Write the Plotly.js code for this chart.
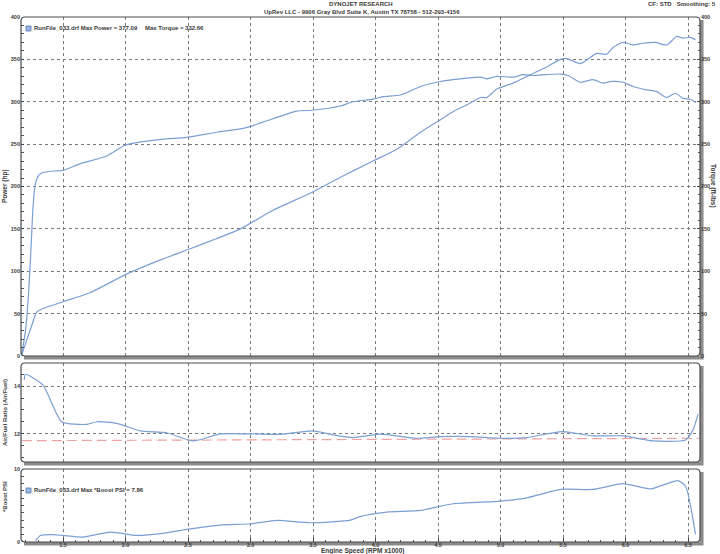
<!DOCTYPE html>
<html>
<head>
<meta charset="utf-8">
<script src="https://cdn.plot.ly/plotly-3.0.1.min.js"></script>
<style>html,body{margin:0;padding:0;background:#fff}#chart{width:720px;height:554px}</style>
</head>
<body>
<div id="chart"></div>
<script>
// ---- data read from the dyno sheet ----
const powerRpm = [1.17,1.21,1.25,1.29,1.34,1.50,1.72,2.00,2.24,2.49,2.72,2.92,3.18,3.49,3.72,3.98,4.17,4.36,4.50,4.63,4.74,4.84,4.89,4.97,5.10,5.24,5.37,5.48,5.53,5.64,5.77,5.85,5.90,5.98,6.06,6.14,6.24,6.33,6.41,6.46,6.52,6.56];
const powerHp  = [1,19,36,52,56,64,75,96,111,125,138,150,172,193,211,230,244,264,277,289,297,305,305,315,322,332,341,350,351,345,357,356,364,370,367,369,370,367,377,375,376,373];

const torqueRpm = [1.17,1.20,1.225,1.245,1.26,1.275,1.30,1.33,1.40,1.50,1.64,1.85,2.00,2.14,2.30,2.49,2.73,2.92,3.00,3.18,3.37,3.49,3.72,3.82,3.98,4.06,4.20,4.36,4.49,4.62,4.84,4.89,4.97,5.10,5.18,5.26,5.37,5.48,5.54,5.64,5.74,5.82,5.89,5.98,6.06,6.17,6.25,6.33,6.40,6.46,6.52,6.56];
const torqueLb  = [2,30,75,130,175,200,212,216,218,219,227,236,249,253,256,258,264,268,271,280,289,290,295,300,303,306,308,318,323,326,329,327,330,329,332,331,332,332.7,331,323,326,322,324,323,318,314,312,305,310,304,303,299];

const afrRpm = [1.19,1.20,1.34,1.49,1.69,1.77,1.93,2.12,2.33,2.54,2.76,3.00,3.26,3.50,3.66,3.82,4.04,4.33,4.52,4.76,5.00,5.21,5.49,5.74,5.98,6.22,6.48,6.54,6.58];
const afrVal = [14.25,14.49,14.04,12.51,12.40,12.51,12.44,12.13,12.05,11.71,12.00,12.00,11.99,12.13,11.96,11.85,11.99,11.82,11.89,11.89,11.82,11.85,12.10,11.92,11.92,11.71,11.75,12.17,12.82];

const afrRefRpm = [1.17,6.59];
const afrRefVal = [11.72,11.82];

const boostRpm = [1.28,1.32,1.42,1.50,1.66,1.88,2.09,2.28,2.49,2.76,3.00,3.21,3.48,3.80,3.88,4.09,4.36,4.62,5.00,5.21,5.48,5.74,5.98,6.20,6.42,6.48,6.56];
const boostPsi = [0.2,0.9,1.0,0.9,0.68,1.36,0.9,1.14,1.73,2.32,2.5,2.96,2.64,3.0,3.5,4.1,4.32,5.24,5.6,6.05,7.2,7.2,8.0,7.28,8.4,7.64,1.05];

const mainTicks = [0,50,100,150,200,250,300,350,400];
const rpmTicks = [1.5,2.0,2.5,3.0,3.5,4.0,4.5,5.0,5.5,6.0,6.5];
const rpmTickText = ['1.5','2.0','2.5','3.0','3.5','4.0','4.5','5.0','5.5','6.0','6.5'];

// ---- layout helpers (pixel -> paper) ----
const W = 720, H = 554;
const px = x => x / W, py = y => 1 - y / H;
const X0 = 21, X1 = 700;
const panels = { main: [17, 356], afr: [363, 462], boost: [469, 542] };
const xRange = [1.164, 6.596];

const lineCol = '#7b9fd3';
const gridCol = '#7a7a7a';
const txtCol = '#3a3a3a';
const FONT = 'Liberation Sans, Arial, sans-serif';

function rr(x0, y0, x1, y1, r) {
  const X = v => px(v).toFixed(5), Y = v => py(v).toFixed(5);
  return `M ${X(x0+r)},${Y(y0)} L ${X(x1-r)},${Y(y0)} Q ${X(x1)},${Y(y0)} ${X(x1)},${Y(y0+r)} ` +
         `L ${X(x1)},${Y(y1-r)} Q ${X(x1)},${Y(y1)} ${X(x1-r)},${Y(y1)} L ${X(x0+r)},${Y(y1)} ` +
         `Q ${X(x0)},${Y(y1)} ${X(x0)},${Y(y1-r)} L ${X(x0)},${Y(y0+r)} Q ${X(x0)},${Y(y0)} ${X(x0+r)},${Y(y0)} Z`;
}
function shadow(x0, y0, x1, y1) {
  const X = v => px(v).toFixed(5), Y = v => py(v).toFixed(5);
  return `M ${X(x0+3)},${Y(y1+1.8)} L ${X(x1+1.8)},${Y(y1+1.8)} L ${X(x1+1.8)},${Y(y0+3)}`;
}

const shapes = [];
for (const k of ['main','afr','boost']) {
  const [t, b] = panels[k];
  shapes.push({type:'path', xref:'paper', yref:'paper', layer:'below', path: shadow(X0, t, X1, b), line:{color:'#8c8c8c', width:3.5}});
  shapes.push({type:'path', xref:'paper', yref:'paper', path: rr(X0, t, X1, b, 4), line:{color:'#4a4a4a', width:1.2}});
}
// legend swatches
shapes.push({type:'rect', xref:'paper', yref:'paper', x0:px(26), x1:px(31), y0:py(31), y1:py(26), fillcolor:'#9bb7e3', line:{color:'#4f73b0', width:0.8}});
shapes.push({type:'rect', xref:'paper', yref:'paper', x0:px(26), x1:px(31), y0:py(493), y1:py(488), fillcolor:'#9bb7e3', line:{color:'#4f73b0', width:0.8}});

const ann = (text, x, y, size, opts={}) => Object.assign({
  text: '<b>' + text + '</b>', xref:'paper', yref:'paper', x: px(x), y: py(y),
  showarrow:false, font:{family:FONT, size:size, color:txtCol}, xanchor:'center', yanchor:'middle'
}, opts);

const annotations = [
  ann('DYNOJET RESEARCH', 361, 4, 6),
  ann('UpRev LLC - 9906 Gray Blvd Suite K, Austin TX 78758 - 512-293-4156', 362, 12, 6),
  ann('CF: STD   Smoothing: 5', 718, 4, 6, {xanchor:'right'}),
  ann('RunFile_033.drf Max Power = 377.09', 32, 28, 6, {xanchor:'left'}),
  ann('Max Torque = 332.66', 143, 28, 6, {xanchor:'left'}),
  ann('RunFile_033.drf Max *Boost PSI = 7.86', 32, 490, 6, {xanchor:'left'}),
  ann('Power (hp)', 5, 186, 6.5, {textangle:-90}),
  ann('Torque (ft-lbs)', 713, 186, 6.5, {textangle:90}),
  ann('Air/Fuel Ratio (Air/Fuel)', 5, 413, 6, {textangle:-90}),
  ann('*Boost PSI', 5, 497, 6, {textangle:-90}),
  ann('Engine Speed (RPM x1000)', 362, 550.5, 6.5)
];

const tickFont = {family: FONT, size: 5.5, color: txtCol, weight: 'bold'};
const xCommon = {
  range: xRange, domain:[px(X0), px(X1)], tickvals: rpmTicks, ticktext: rpmTickText,
  showgrid:true, gridcolor:gridCol, griddash:'dot', gridwidth:1, zeroline:false, showline:false,
  fixedrange:true
};

const layout = {
  width: W, height: H, margin:{l:0,r:0,t:0,b:0}, paper_bgcolor:'#fff', plot_bgcolor:'rgba(0,0,0,0)',
  showlegend:false, shapes, annotations,
  xaxis: Object.assign({}, xCommon, {anchor:'y3', showticklabels:true, tickfont:tickFont,
          ticks:'inside', ticklen:4, tickcolor:'#444', ticklabelstandoff:-2,
          minor:{dtick:0.1, tick0:1.5, ticks:'inside', ticklen:2.5, tickcolor:'#555', showgrid:false}}),
  xaxis2: Object.assign({}, xCommon, {anchor:'y2', matches:'x', showticklabels:false, ticks:''}),
  xaxis3: Object.assign({}, xCommon, {anchor:'y', matches:'x', showticklabels:false, ticks:''}),
  yaxis: {domain:[py(panels.main[1]), py(panels.main[0])], range:[0,400], tickvals: mainTicks,
          showgrid:true, gridcolor:gridCol, griddash:'dot', zeroline:false, showline:false,
          tickfont:tickFont, ticks:'inside', ticklen:3, tickcolor:'#444', anchor:'x3',
          minor:{dtick:10, ticks:'inside', ticklen:2.5, tickcolor:'#555', showgrid:false}},
  yaxis4: {overlaying:'y', side:'right', anchor:'x3', range:[0,400], tickvals: mainTicks,
          showgrid:false, zeroline:false, showline:false, tickfont:tickFont,
          ticks:'inside', ticklen:3, tickcolor:'#444',
          minor:{dtick:10, ticks:'inside', ticklen:2.5, tickcolor:'#555', showgrid:false}},
  yaxis2: {domain:[py(panels.afr[1]), py(panels.afr[0])], range:[10.83,14.96], tickvals:[12,14],
          showgrid:true, gridcolor:gridCol, griddash:'dot', zeroline:false, showline:false,
          tickfont:tickFont, ticks:'inside', ticklen:3, tickcolor:'#444', anchor:'x2',
          minor:{dtick:0.5, tick0:0, ticks:'inside', ticklen:2.5, tickcolor:'#555', showgrid:false}},
  yaxis3: {domain:[py(panels.boost[1]), py(panels.boost[0])], range:[0,10], tickvals:[0,10],
          showgrid:false, zeroline:false, showline:false,
          tickfont:tickFont, ticks:'inside', ticklen:3, tickcolor:'#444', anchor:'x',
          minor:{dtick:1, ticks:'inside', ticklen:2.5, tickcolor:'#555', showgrid:false}}
};

const ln = {color: lineCol, width: 1.2, shape:'spline', smoothing:0.6};
const data = [
  {x: powerRpm, y: powerHp, xaxis:'x3', yaxis:'y', mode:'lines', line: ln, name:'Power'},
  {x: torqueRpm, y: torqueLb, xaxis:'x3', yaxis:'y4', mode:'lines', line: ln, name:'Torque'},
  {x: afrRefRpm, y: afrRefVal, xaxis:'x2', yaxis:'y2', mode:'lines', line:{color:'#f0a3a3', width:1.2, dash:'10px,5px'}, name:'AFR target'},
  {x: afrRpm, y: afrVal, xaxis:'x2', yaxis:'y2', mode:'lines', line: ln, name:'AFR'},
  {x: boostRpm, y: boostPsi, xaxis:'x', yaxis:'y3', mode:'lines', line: ln, name:'Boost'}
];

Plotly.newPlot('chart', data, layout, {staticPlot:true, displayModeBar:false});
</script>
</body>
</html>
